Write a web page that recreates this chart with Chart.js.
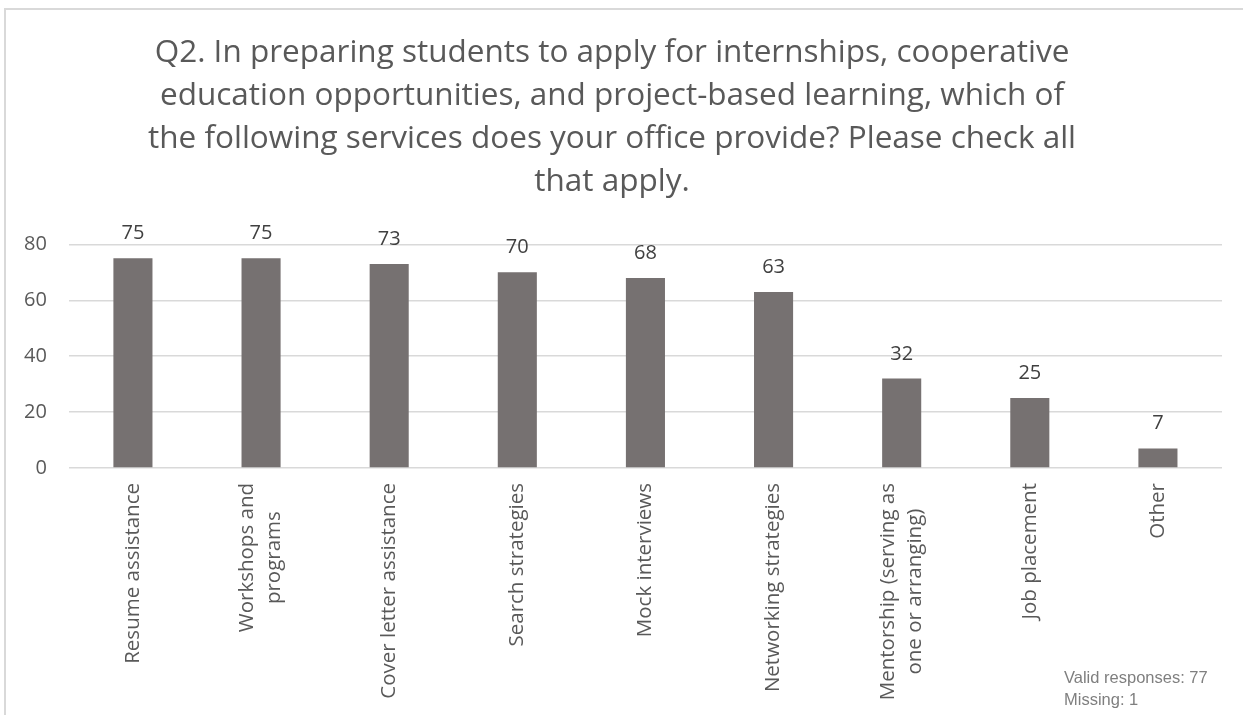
<!DOCTYPE html>
<html>
<head>
<meta charset="utf-8">
<script src="https://cdn.jsdelivr.net/npm/chart.js@4.4.1/dist/chart.umd.min.js"></script>
<style>
  html, body { margin: 0; padding: 0; background: #ffffff; overflow: hidden; }
  #wrap { position: relative; width: 1243px; height: 715px; }
  #frame {
    position: absolute; left: 4px; top: 8px; width: 1300px; height: 800px;
    border-left: 2px solid #d9d9d9; border-top: 2px solid #d9d9d9;
    pointer-events: none;
  }
  canvas { position: absolute; left: 0; top: 0; }
</style>
</head>
<body>
<div id="wrap">
  <canvas id="chart" width="1243" height="715"></canvas>
  <div id="frame"></div>
</div>
<script>
// Survey question and the services offered (multi-line category names)
const titleLines = [
  "Q2. In preparing students to apply for internships, cooperative",
  "education opportunities, and project-based learning, which of",
  "the following services does your office provide? Please check all",
  "that apply."
];
const categories = [
  ["Resume assistance"],
  ["Workshops and", "programs"],
  ["Cover letter assistance"],
  ["Search strategies"],
  ["Mock interviews"],
  ["Networking strategies"],
  ["Mentorship (serving as", "one or arranging)"],
  ["Job placement"],
  ["Other"]
];
const counts = [75, 75, 73, 70, 68, 63, 32, 25, 7];
const yTicks = [0, 20, 40, 60, 80];
const footnote = ["Valid responses: 77", "Missing: 1"];

const FONT = "'Open Sans', 'Noto Sans', sans-serif";

// Value labels above each bar
const valueLabels = {
  id: 'valueLabels',
  afterDatasetsDraw(chart) {
    const ctx = chart.ctx;
    const meta = chart.getDatasetMeta(0);
    ctx.save();
    ctx.font = "20px " + FONT;
    ctx.fillStyle = "#404040";
    ctx.textAlign = "center";
    ctx.textBaseline = "alphabetic";
    meta.data.forEach((bar, i) => {
      ctx.fillText(String(counts[i]), bar.x, bar.y - 19);
    });
    ctx.restore();
  }
};

// Vertical category labels, lines centred on each other
const categoryLabels = {
  id: 'categoryLabels',
  afterDraw(chart) {
    const ctx = chart.ctx;
    const xs = chart.scales.x;
    const top = chart.chartArea.bottom + 15;
    const lh = 27;
    ctx.save();
    ctx.font = "20.5px " + FONT;
    ctx.fillStyle = "#595959";
    ctx.textAlign = "center";
    ctx.textBaseline = "middle";
    categories.forEach((lines, i) => {
      const x = xs.getPixelForValue(i);
      const w = Math.max(...lines.map(l => ctx.measureText(l).width));
      ctx.save();
      ctx.translate(x, top);
      ctx.rotate(-Math.PI / 2);
      lines.forEach((line, j) => {
        ctx.fillText(line, -w / 2, (j - (lines.length - 1) / 2) * lh);
      });
      ctx.restore();
    });
    ctx.restore();
  }
};

// Response count note in the lower right corner
const footnotePlugin = {
  id: 'footnote',
  afterDraw(chart) {
    const ctx = chart.ctx;
    ctx.save();
    ctx.font = "16.5px 'Liberation Sans', Arial, sans-serif";
    ctx.fillStyle = "#7f7f7f";
    ctx.textAlign = "left";
    ctx.textBaseline = "alphabetic";
    ctx.fillText(footnote[0], 1064, 683);
    ctx.fillText(footnote[1], 1064, 705);
    ctx.restore();
  }
};

new Chart(document.getElementById('chart'), {
  type: 'bar',
  data: {
    labels: categories.map(c => c.join(' ')),
    datasets: [{
      data: counts,
      backgroundColor: '#767171',
      borderWidth: 0,
      categoryPercentage: 1.0,
      barPercentage: 0.305
    }]
  },
  options: {
    responsive: false,
    animation: false,
    layout: { padding: { left: 2, right: 21, top: 20, bottom: 239 } },
    plugins: {
      legend: { display: false },
      tooltip: { enabled: false },
      title: {
        display: true,
        text: titleLines,
        color: '#595959',
        font: { family: FONT, size: 31.5, weight: 'normal', lineHeight: 1.36 },
        padding: { top: 12, bottom: 41 }
      }
    },
    scales: {
      x: {
        grid: { display: false },
        border: { display: false },
        ticks: { display: false }
      },
      y: {
        min: 0,
        max: 80,
        afterBuildTicks(axis) { axis.ticks = yTicks.map(v => ({ value: v })); },
        grid: { color: '#d9d9d9', lineWidth: 1.5, drawTicks: false },
        border: { display: false },
        ticks: {
          color: '#595959',
          font: { family: FONT, size: 20 },
          padding: 22
        }
      }
    }
  },
  plugins: [valueLabels, categoryLabels, footnotePlugin]
});
</script>
</body>
</html>
